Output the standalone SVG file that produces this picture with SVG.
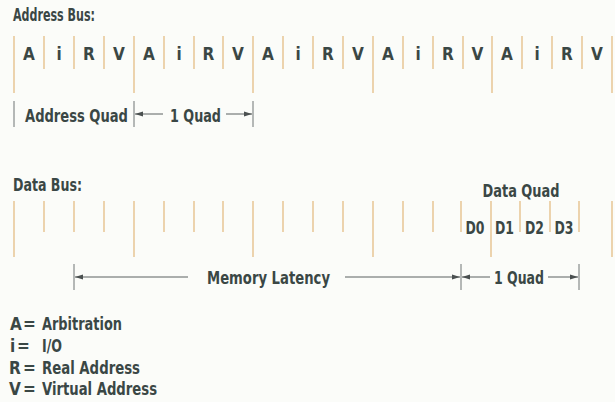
<svg xmlns="http://www.w3.org/2000/svg" width="615" height="402" viewBox="0 0 615 402">
<style>
.t{font-family:"DejaVu Sans Condensed","Liberation Sans Narrow","Liberation Sans",Arial,sans-serif;font-stretch:condensed;font-weight:bold;fill:#3a4745;font-size:17px}
.c{text-anchor:middle}
.tk{stroke:#e6c28e;stroke-width:1.4}
.br{stroke:#6e7474;stroke-width:1}
.ar{stroke:#5a6060;stroke-width:1;fill:none}
</style>
<defs>
<marker id="ah" viewBox="0 0 8 6" refX="8" refY="3" markerWidth="8" markerHeight="6" markerUnits="userSpaceOnUse" orient="auto">
<path d="M0,0.6 L8,3 L0,5.4 Z" fill="#4a5050"/>
</marker>
</defs>
<rect width="615" height="402" fill="#fbfcf9"/>

<g id="address-bus">
<text class="t" x="13" y="21" textLength="82" lengthAdjust="spacingAndGlyphs">Address Bus:</text>
<g id="address-ticks">
<line class="tk" x1="14" y1="36" x2="14" y2="93"/>
<line class="tk" x1="44" y1="36" x2="44" y2="69"/>
<line class="tk" x1="74" y1="36" x2="74" y2="69"/>
<line class="tk" x1="104" y1="36" x2="104" y2="69"/>
<line class="tk" x1="134" y1="36" x2="134" y2="93"/>
<line class="tk" x1="164" y1="36" x2="164" y2="69"/>
<line class="tk" x1="194" y1="36" x2="194" y2="69"/>
<line class="tk" x1="223" y1="36" x2="223" y2="69"/>
<line class="tk" x1="253" y1="36" x2="253" y2="93"/>
<line class="tk" x1="283" y1="36" x2="283" y2="69"/>
<line class="tk" x1="313" y1="36" x2="313" y2="69"/>
<line class="tk" x1="343" y1="36" x2="343" y2="69"/>
<line class="tk" x1="373" y1="36" x2="373" y2="93"/>
<line class="tk" x1="403" y1="36" x2="403" y2="69"/>
<line class="tk" x1="433" y1="36" x2="433" y2="69"/>
<line class="tk" x1="463" y1="36" x2="463" y2="69"/>
<line class="tk" x1="492" y1="36" x2="492" y2="93"/>
<line class="tk" x1="522" y1="36" x2="522" y2="69"/>
<line class="tk" x1="552" y1="36" x2="552" y2="69"/>
<line class="tk" x1="582" y1="36" x2="582" y2="69"/>
<line class="tk" x1="612" y1="36" x2="612" y2="93"/>
</g>
<g id="address-slots" class="t c">
<text x="29" y="60">A</text><text x="59" y="60">i</text><text x="89" y="60">R</text><text x="119" y="60">V</text>
<text x="149" y="60">A</text><text x="179" y="60">i</text><text x="208.5" y="60">R</text><text x="238" y="60">V</text>
<text x="268" y="60">A</text><text x="298" y="60">i</text><text x="328" y="60">R</text><text x="358" y="60">V</text>
<text x="388" y="60">A</text><text x="418" y="60">i</text><text x="448" y="60">R</text><text x="477.5" y="60">V</text>
<text x="507" y="60">A</text><text x="537" y="60">i</text><text x="567" y="60">R</text><text x="597" y="60">V</text>
</g>
</g>

<g id="address-quad">
<line class="br" x1="14" y1="101" x2="14" y2="127"/>
<line class="br" x1="134" y1="101" x2="134" y2="127"/>
<line class="br" x1="253" y1="101" x2="253" y2="127"/>
<text class="t" x="25" y="122" textLength="103" lengthAdjust="spacingAndGlyphs">Address Quad</text>
<text class="t" x="170" y="122" textLength="51" lengthAdjust="spacingAndGlyphs">1 Quad</text>
</g>

<g id="data-bus">
<text class="t" x="13" y="191" textLength="69" lengthAdjust="spacingAndGlyphs">Data Bus:</text>
<g id="data-ticks">
<line class="tk" x1="14" y1="201" x2="14" y2="257"/>
<line class="tk" x1="44" y1="201" x2="44" y2="232"/>
<line class="tk" x1="74" y1="201" x2="74" y2="232"/>
<line class="tk" x1="104" y1="201" x2="104" y2="232"/>
<line class="tk" x1="134" y1="201" x2="134" y2="257"/>
<line class="tk" x1="164" y1="201" x2="164" y2="232"/>
<line class="tk" x1="194" y1="201" x2="194" y2="232"/>
<line class="tk" x1="223" y1="201" x2="223" y2="232"/>
<line class="tk" x1="253" y1="201" x2="253" y2="257"/>
<line class="tk" x1="283" y1="201" x2="283" y2="232"/>
<line class="tk" x1="313" y1="201" x2="313" y2="232"/>
<line class="tk" x1="343" y1="201" x2="343" y2="232"/>
<line class="tk" x1="373" y1="201" x2="373" y2="257"/>
<line class="tk" x1="403" y1="201" x2="403" y2="232"/>
<line class="tk" x1="433" y1="201" x2="433" y2="232"/>
<line class="tk" x1="461" y1="201" x2="461" y2="232"/>
<line class="tk" x1="491" y1="201" x2="491" y2="257"/>
<line class="tk" x1="520" y1="201" x2="520" y2="232"/>
<line class="tk" x1="550" y1="201" x2="550" y2="232"/>
<line class="tk" x1="579" y1="201" x2="579" y2="232"/>
<line class="tk" x1="612" y1="201" x2="612" y2="257"/>
</g>
</g>

<g id="data-quad">
<text class="t c" x="521" y="197" textLength="77" lengthAdjust="spacingAndGlyphs">Data Quad</text>
<g class="t c">
<text x="475" y="234" textLength="19" lengthAdjust="spacingAndGlyphs">D0</text><text x="504.5" y="234" textLength="19" lengthAdjust="spacingAndGlyphs">D1</text><text x="534.5" y="234" textLength="19" lengthAdjust="spacingAndGlyphs">D2</text><text x="564" y="234" textLength="19" lengthAdjust="spacingAndGlyphs">D3</text>
</g>
</g>

<g id="latency">
<line class="br" x1="74" y1="264" x2="74" y2="290"/>
<line class="br" x1="461" y1="264" x2="461" y2="290"/>
<line class="br" x1="579" y1="264" x2="579" y2="290"/>
<text class="t" x="207" y="284" textLength="123" lengthAdjust="spacingAndGlyphs">Memory Latency</text>
<text class="t" x="494" y="284" textLength="50" lengthAdjust="spacingAndGlyphs">1 Quad</text>
</g>

<g id="connectors">
<line class="ar" x1="163" y1="114" x2="135" y2="114" marker-end="url(#ah)"/>
<line class="ar" x1="226" y1="114" x2="252" y2="114" marker-end="url(#ah)"/>
<line class="ar" x1="188" y1="277" x2="75" y2="277" marker-end="url(#ah)"/>
<line class="ar" x1="345" y1="277" x2="460" y2="277" marker-end="url(#ah)"/>
<line class="ar" x1="490" y1="277" x2="462" y2="277" marker-end="url(#ah)"/>
<line class="ar" x1="548" y1="277" x2="578" y2="277" marker-end="url(#ah)"/>
</g>

<g id="legend" class="t">
<text x="10" y="330">A</text><text x="23" y="330">=</text><text x="42" y="330" textLength="80" lengthAdjust="spacingAndGlyphs">Arbitration</text>
<text x="10" y="352">i</text><text x="17" y="352">=</text><text x="42" y="352" textLength="20" lengthAdjust="spacingAndGlyphs">I/O</text>
<text x="9" y="374">R</text><text x="23" y="374">=</text><text x="42" y="374" textLength="98" lengthAdjust="spacingAndGlyphs">Real Address</text>
<text x="9" y="395">V</text><text x="23" y="395">=</text><text x="42" y="395" textLength="115" lengthAdjust="spacingAndGlyphs">Virtual Address</text>
</g>
</svg>
